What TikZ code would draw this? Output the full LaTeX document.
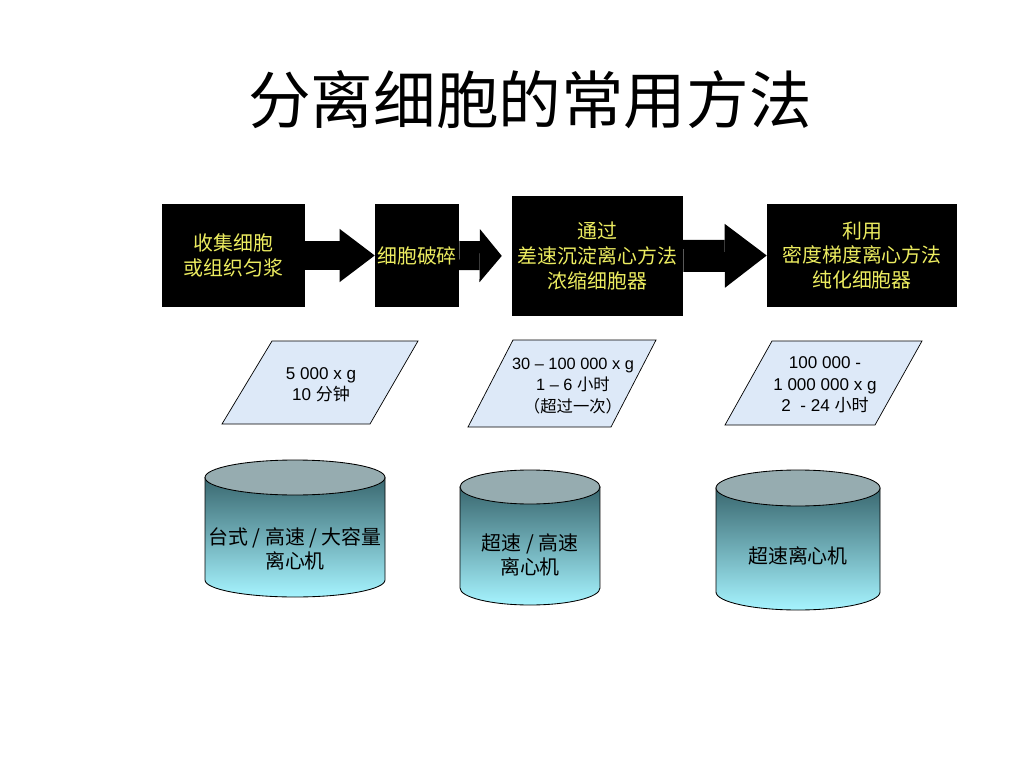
\documentclass[tikz,border=0pt]{standalone}
\usepackage{fontspec}
\setmainfont{Liberation Sans}
\newfontfamily\cjk{Noto Sans CJK SC}
\newcommand\zh[1]{{\cjk #1}}
\usetikzlibrary{arrows.meta,positioning}
\definecolor{boxtxt}{RGB}{236,236,96}
\definecolor{parafill}{RGB}{221,233,248}
\definecolor{drumtop}{RGB}{150,172,176}
\definecolor{drumdark}{RGB}{58,104,112}
\definecolor{drumlight}{RGB}{166,244,255}
\def\px{0.703125pt}
\tikzset{
  blk/.style   = { fill=black, text=boxtxt, align=center, inner sep=0pt,
    font=\cjk\fontsize{14}{17.5}\selectfont },
  para/.style  = { draw, fill=parafill, line width=0.5pt },
  ptxt/.style  = { align=center, inner sep=0pt, font=\fontsize{12}{15}\selectfont },
  drum/.style  = { draw, line width=0.6pt, top color=drumdark, bottom color=drumlight },
  lid/.style   = { draw, line width=0.6pt, fill=drumtop },
  dtxt/.style  = { align=center, inner sep=0pt, font=\cjk\fontsize{14}{16.5}\selectfont }
}

\begin{document}
\begin{tikzpicture}[x=\px, y=-\px]
    \useasboundingbox (0,0) rectangle (1024,768);
    \node[font=\cjk\fontsize{44}{50}\selectfont] (title) at (530,100) {分离细胞的常用方法};

    % process steps
    \node[blk, minimum width=143*\px, minimum height=103*\px] (b1) at (233.5,255.5) {收集细胞\\或组织匀浆};
    \node[blk, minimum width=84*\px, minimum height=103*\px] (b2) at (417,255.5) {细胞破碎};
    \node[blk, minimum width=171*\px, minimum height=120*\px] (b3) at (597.5,256) {通过\\差速沉淀离心方法\\浓缩细胞器};
    \node[blk, minimum width=190*\px, minimum height=103*\px] (b4) at (862,255.5) {利用\\密度梯度离心方法\\纯化细胞器};

    \draw[line width=19.7pt, -{Triangle[length=24.6pt, width=37.3pt, line width=0pt]}] (b1.east) -- (b2.west);
    \draw[line width=20.4pt, shorten >=7pt, -{Triangle[length=15.5pt, width=37.3pt, line width=0pt]}] (b2.east) -- (b3.west);
    \draw[line width=22.5pt, -{Triangle[length=29.5pt, width=45pt, line width=0pt]}] (b3.east) -- (b4.west);

    % conditions
    \draw[para] (272,341) -- (418,341) -- (370,424) -- (222,424) -- cycle;
    \node[ptxt] (p1) at (321,385) {5 000 x g\\10 \zh{分钟}};
    \draw[para] (513,340) -- (656,340) -- (611,427) -- (468,427) -- cycle;
    \node[ptxt, font=\fontsize{11.5}{15}\selectfont] (p2) at (573,386) {30 – 100 000 x g\\1 – 6 \zh{小时}\\\zh{（超过一次）}};
    \draw[para] (772,341) -- (922,341) -- (875,425) -- (725,425) -- cycle;
    \node[ptxt] (p3) at (825,385) {100 000 -\\1 000 000 x g\\2 \ - 24 \zh{小时}};

    % centrifuges
    \draw[drum] (205,477.5) -- (205,580) arc[start angle=180, end angle=0, x radius=90, y radius=17] -- (385,477.5) -- cycle;
    \draw[lid] (295,477.5) ellipse [x radius=90, y radius=17.5];
    \node[dtxt] (c1) at (295,549) {台式 / 高速 / 大容量\\离心机};

    \draw[drum] (460,487) -- (460,588) arc[start angle=180, end angle=0, x radius=70, y radius=17] -- (600,487) -- cycle;
    \draw[lid] (530,487) ellipse [x radius=70, y radius=17];
    \node[dtxt] (c2) at (530,555) {超速 / 高速\\离心机};

    \draw[drum] (716,488) -- (716,592) arc[start angle=180, end angle=0, x radius=82, y radius=18] -- (880,488) -- cycle;
    \draw[lid] (798,488) ellipse [x radius=82, y radius=18];
    \node[dtxt] (c3) at (798,556) {超速离心机};
\end{tikzpicture}
\end{document}
